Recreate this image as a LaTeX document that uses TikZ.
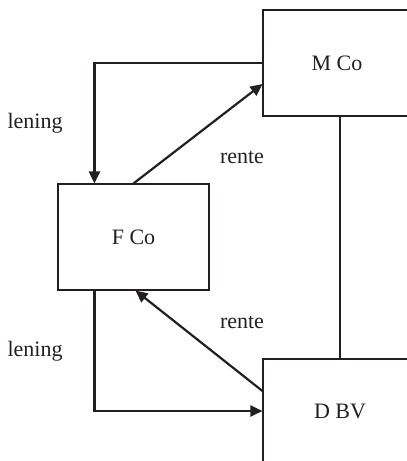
\documentclass[tikz,border=0pt]{standalone}
\usepackage{fontspec}
\setmainfont{Liberation Serif}
\usetikzlibrary{arrows.meta,calc}
\begin{document}
\begin{tikzpicture}[x=0.5pt,y=-0.5pt,
  box/.style={draw=ink,line width=0.55pt,inner sep=0pt,font=\fontsize{11}{13}\selectfont,text=ink},
  conn/.style={draw=ink,line width=1.1pt},
  arr/.style={conn,-{Triangle[length=6pt,width=5.5pt]}},
  lbl/.style={font=\fontsize{11}{13}\selectfont,text=ink,inner sep=0pt}]
\definecolor{ink}{HTML}{231F20}
\useasboundingbox (0,0) rectangle (407,461);
\clip (0,0) rectangle (407,461);
\node[box,minimum width=74pt,minimum height=53pt] (MCo) at (337,63) {M Co};
\node[box,minimum width=75.5pt,minimum height=53pt] (FCo) at (133.5,237) {F Co};
\node[box,minimum width=77pt,minimum height=52pt] (DBV) at (340,411) {D BV};
\draw[conn] ([xshift=1.5pt]MCo.south) -- ([xshift=1.5pt]MCo.south |- DBV.north);
\draw[arr] (MCo.west) -| ([xshift=18.5pt]FCo.north west);
\draw[arr] (FCo.north) -- ([yshift=-10.5pt]MCo.west);
\draw[arr] ([xshift=18.5pt]FCo.south west) |- (DBV.west);
\draw[arr] ([yshift=10pt]DBV.west) -- ([xshift=1pt]FCo.south);
\node[lbl] (l1) at (35,123) {lening};
\node[lbl] (r1) at (242,157) {rente};
\node[lbl] (r2) at (242,322) {rente};
\node[lbl] (l2) at (35,351) {lening};
\end{tikzpicture}
\end{document}
